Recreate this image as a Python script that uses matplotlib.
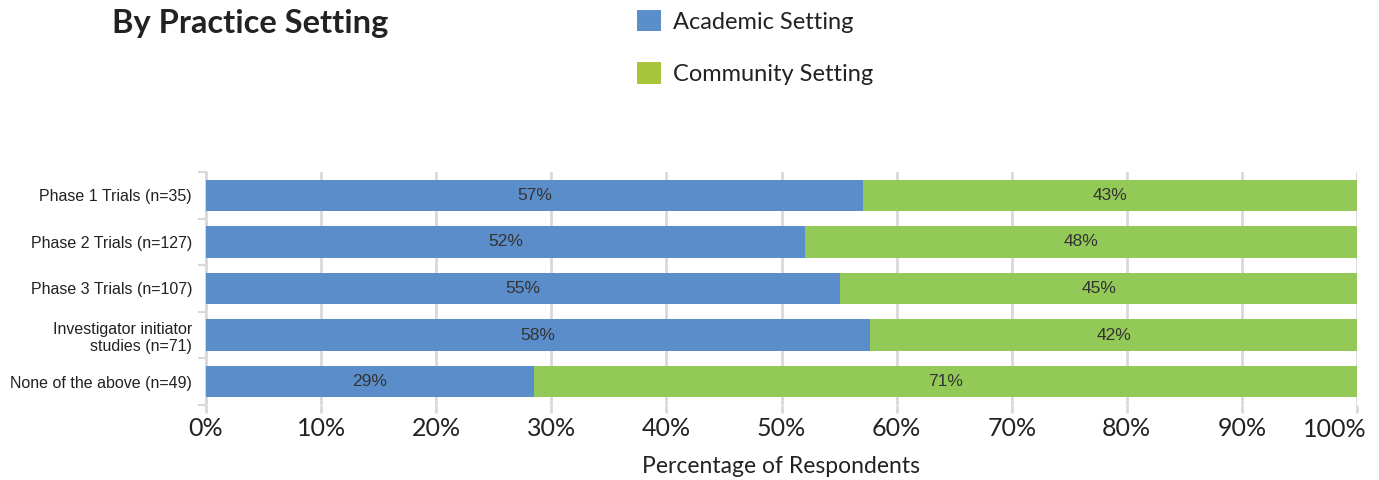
import numpy as np
import matplotlib
matplotlib.use('Agg')
import matplotlib.pyplot as plt

categories = ['Phase 1 Trials (n=35)', 'Phase 2 Trials (n=127)', 'Phase 3 Trials (n=107)',
              'Investigator initiator\nstudies (n=71)', 'None of the above (n=49)']
academic = [57.1, 52.0, 55.1, 57.7, 28.5]
community = [42.9, 48.0, 44.9, 42.3, 71.5]
academic_labels = ['57%', '52%', '55%', '58%', '29%']
community_labels = ['43%', '48%', '45%', '42%', '71%']
xticks = [0, 10, 20, 30, 40, 50, 60, 70, 80, 90, 100]

BLUE = '#5a8dca'
GREEN = '#93c957'
GRID = '#d9d9d9'
GEO = ['Lato', 'DejaVu Sans']
ARIAL = ['Liberation Sans', 'DejaVu Sans']

fig = plt.figure(figsize=(13.79, 4.8), dpi=100)
ax = fig.add_axes([206 / 1379, 1 - 405 / 480, 1151 / 1379, 233 / 480])

y = np.arange(len(categories))
b1 = ax.barh(y, academic, height=0.67, color=BLUE, label='Academic Setting', zorder=3)
b2 = ax.barh(y, community, left=academic, height=0.67, color=GREEN, label='Community Setting', zorder=3)

for i in range(len(categories)):
    ax.text(academic[i] / 2, y[i], academic_labels[i], ha='center', va='center',
            fontsize=12.5, color='#333333', family=ARIAL, zorder=4)
    ax.text(academic[i] + community[i] / 2, y[i], community_labels[i], ha='center', va='center',
            fontsize=12.5, color='#333333', family=ARIAL, zorder=4)

ax.set_xlim(0, 100)
ax.set_ylim(len(categories) - 0.5, -0.5)
ax.set_xticks(xticks)
labels = [f'{t}%' for t in xticks]
ax.set_xticklabels(labels[:-1] + [''], family=GEO, fontsize=18, color='#222222')
# the 100% label sits a bit left of its tick in the original
ax.annotate(labels[-1], xy=(1, 0), xycoords='axes fraction', xytext=(7, -9.5),
            textcoords='offset points', ha='right', va='top', family=GEO, fontsize=18,
            color='#222222')

ax.set_yticks(y)
ax.set_yticklabels(categories, family=ARIAL, fontsize=11.5, color='#222222')
ax.set_yticks(np.arange(len(categories) + 1) - 0.5, minor=True)
ax.tick_params(axis='y', which='major', length=0, pad=10)
ax.tick_params(axis='y', which='minor', length=6, color=GRID, width=1.5)
ax.tick_params(axis='x', length=6, color=GRID, width=2, pad=3)
ax.grid(axis='x', color=GRID, linewidth=2, zorder=0)
for s in ['top', 'right', 'bottom']:
    ax.spines[s].set_visible(False)
ax.spines['left'].set_color(GRID)
ax.spines['left'].set_linewidth(1.5)

ax.set_xlabel('Percentage of Respondents', family=GEO, fontsize=16.5, color='#222222', labelpad=11)

fig.text(112 / 1379, 1 - 23 / 480, 'By Practice Setting', fontsize=23.5, fontweight='bold',
         family=GEO, color='#222222', va='center', ha='left')

leg = fig.legend(handles=[b1, b2], loc='upper left', bbox_to_anchor=(616 / 1379, 1 + 11 / 480),
                 frameon=False, prop={'family': GEO, 'size': 17}, handlelength=1.0,
                 handleheight=1.0, handletextpad=0.5, labelspacing=1.25, labelcolor='#222222')
leg.legend_handles[0].set_facecolor('#5b8fcb')
leg.legend_handles[1].set_facecolor('#a8c43b')

fig.savefig('out.png', dpi=100)
